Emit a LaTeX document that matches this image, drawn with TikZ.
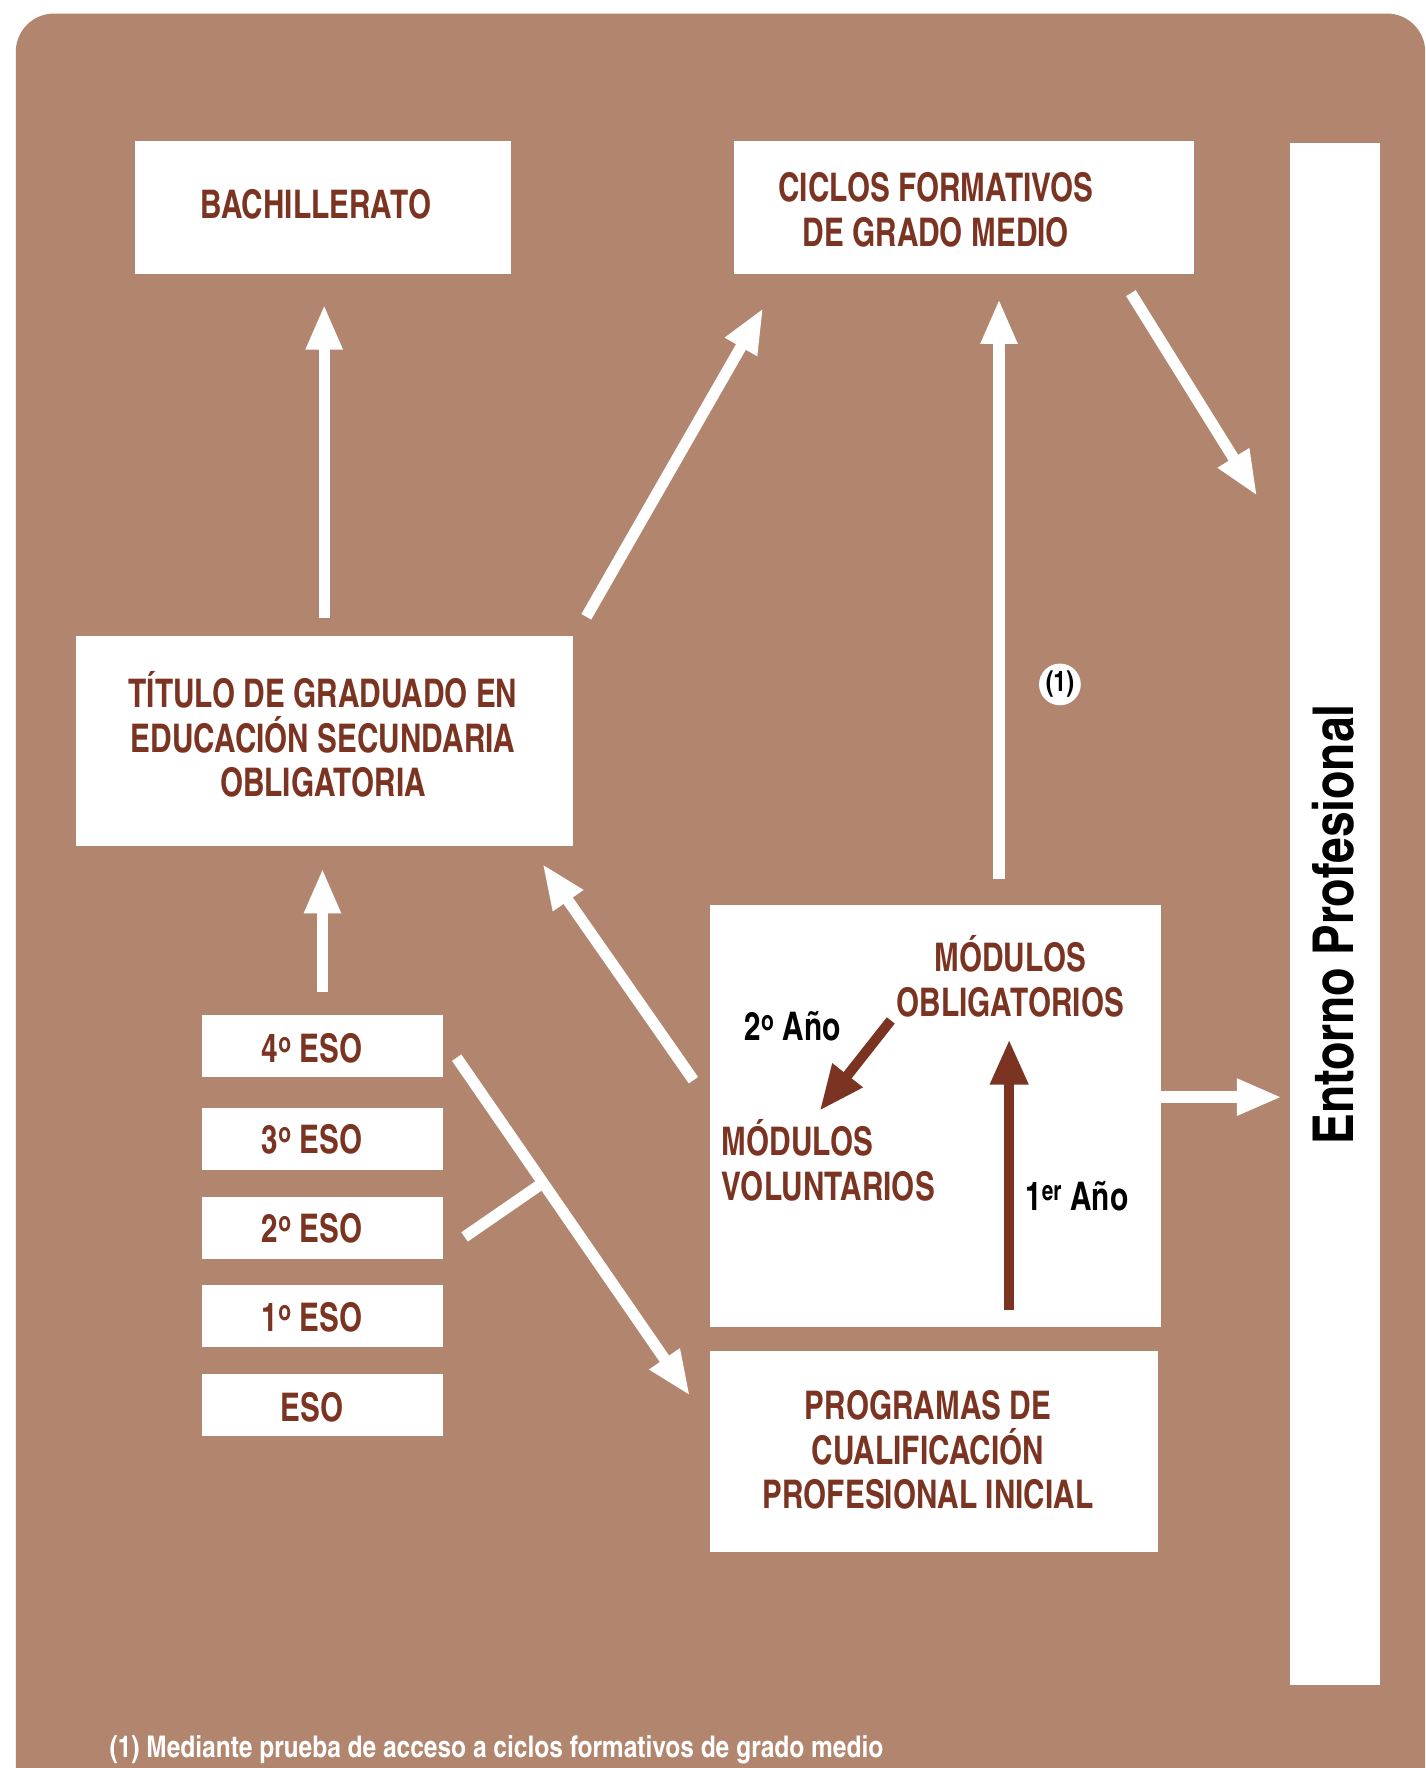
\documentclass[tikz,border=0pt]{standalone}
\usepackage{fontspec}
\setmainfont{texgyreheroscn}[Extension=.otf, UprightFont=*-regular, BoldFont=*-bold, FakeStretch=0.92]
\newfontfamily\footfont{texgyreheroscn}[Extension=.otf, UprightFont=*-regular, BoldFont=*-bold]
\usetikzlibrary{arrows.meta,calc}
\definecolor{bg}{RGB}{178,134,110}
\definecolor{dred}{RGB}{122,52,33}
\newcommand{\ordo}{\textsuperscript{o}}
\begin{document}
\begin{tikzpicture}[x=1pt,y=-1pt,
  box/.style={fill=white, draw=none, inner sep=0pt, outer sep=0pt},
  lbl/.style={text=dred, font=\fontsize{35}{39.5}\selectfont\bfseries, align=center, inner sep=0pt},
  blk/.style={text=black, font=\fontsize{35}{39.5}\selectfont\bfseries, inner sep=0pt},
  warrow/.style={draw=white, line width=10pt, -{Triangle[length=40pt,width=30pt]}},
  darrow/.style={draw=dred, line width=9pt, -{Triangle[length=40pt,width=32pt]}},
  wline/.style={draw=white, line width=10pt}]
\useasboundingbox (0,0) rectangle (1264,1568);
\fill[white] (0,0) rectangle (1264,1568);
\begin{scope}
  \clip (0,0) rectangle (1264,1568);
  \fill[bg, rounded corners=34pt] (14,12) rectangle (1264,1620);
\end{scope}

% boxes
\node[box, minimum width=333, minimum height=118] (bach) at (286.5,184) {};
\node[lbl] (bachT) at (280,181) {BACHILLERATO};
\node[box, minimum width=408, minimum height=118] (ciclos) at (855,184) {};
\node[lbl] (ciclosT) at (830,186) {CICLOS FORMATIVOS\\DE GRADO MEDIO};
\node[box, minimum width=80, minimum height=1367] (entorno) at (1184,810.5) {};
\node[text=black, inner sep=0pt, rotate=90, font=\footfont\fontsize{50}{56}\selectfont\bfseries] (entornoT) at (1182,820) {Entorno Profesional};
\node[box, minimum width=441, minimum height=186] (titulo) at (287.5,657) {};
\node[lbl] (tituloT) at (286.5,651.5) {TÍTULO DE GRADUADO EN\\EDUCACIÓN SECUNDARIA\\OBLIGATORIA};
\node[box, minimum width=400, minimum height=374] (mod) at (830,990) {};
\node[box, minimum width=397, minimum height=178] (pcpi) at (828.5,1287) {};
\node[lbl] (pcpiT) at (823,1286) {PROGRAMAS DE\\CUALIFICACIÓN\\PROFESIONAL INICIAL};

\node[box, minimum width=214, minimum height=55] (eso4) at (286,927.5) {};
\node[box, minimum width=214, minimum height=55] (eso3) at (286,1010.5) {};
\node[box, minimum width=214, minimum height=55] (eso2) at (286,1089.5) {};
\node[box, minimum width=214, minimum height=55] (eso1) at (286,1167.5) {};
\node[box, minimum width=214, minimum height=55] (eso0) at (286,1246) {};
\node[lbl] (eso4T) at (277,930) {4\ordo{} ESO};
\node[lbl] (eso3T) at (277,1010) {3\ordo{} ESO};
\node[lbl] (eso2T) at (277,1089) {2\ordo{} ESO};
\node[lbl] (eso1T) at (277,1168) {1\ordo{} ESO};
\node[lbl] (eso0T) at (277,1248) {ESO};

% white arrows
\draw[warrow] ($(titulo.north)+(0,-16)$) -- ($(titulo.north |- bach.south)+(0,27)$);
\draw[warrow] ($(titulo.north east)+(12,-17)$) -- ($(ciclos.south west)+(26,30)$);
\draw[warrow] ($(mod.north west)+(256,-23)$) -- ($(ciclos.south west)+(235,22)$);
\draw[warrow] ($(ciclos.south east)+(-56,17)$) -- ($(entorno.north west)+(-29,313)$);
\draw[warrow] ($(mod.west)+(-15,-32)$) -- ($(titulo.south east)+(-27,16)$);
\draw[warrow] ($(eso4.north)+(0,-20)$) -- ($(eso4.north |- titulo.south)+(0,20)$);
\coordinate (s7) at ($(eso4.east)+(12,10.5)$);
\coordinate (e7) at ($(pcpi.west)+(-18,-49)$);
\draw[warrow] (s7) -- (e7);
\coordinate (b2) at ($(eso2.east)+(19,7.5)$);
\coordinate (j7) at ($(s7)!0.37!(e7)$);
\draw[wline] (b2) -- (j7);
\coordinate (m8) at ($(mod.east)+(0,-17)$);
\draw[warrow, shorten >=7pt] (m8) -- (entorno.west |- m8);

% circle note
\node[circle, fill=white, minimum size=37, inner sep=0pt, font=\footfont\fontsize{25}{27}\selectfont\bfseries] (note) at (940,607) {(1)};

% inside module box
\node[lbl] (obl) at (896,866) {MÓDULOS\\OBLIGATORIOS};
\node[lbl, anchor=west, align=left] (vol) at (640,1029) {MÓDULOS\\VOLUNTARIOS};
\node[blk] (y2) at (703,910) {2\ordo{} Año};
\node[blk] (y1) at (955,1061) {1\textsuperscript{er} Año};
\draw[darrow] ($(mod.north west)+(160,102)$) -- ($(mod.north west)+(97,182)$);
\draw[darrow] ($(mod.north west)+(265,359)$) -- ($(mod.north west)+(265,119)$);

% footer
\node[text=white, anchor=base west, inner sep=0pt, font=\footfont\fontsize{26.5}{30}\selectfont\bfseries] (foot) at (97,1559) {(1) Mediante prueba de acceso a ciclos formativos de grado medio};
\end{tikzpicture}
\end{document}
